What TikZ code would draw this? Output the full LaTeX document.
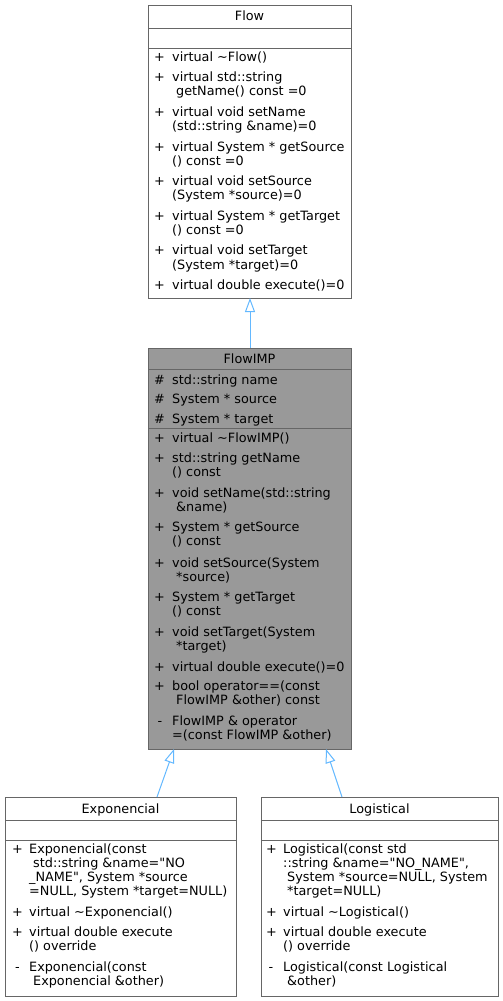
\documentclass[tikz,border=0pt]{standalone}
\usepackage{fontspec}
\setmainfont{DejaVu Sans}[Ligatures=TeXOff]
\usetikzlibrary{arrows.meta}
\definecolor{bordergray}{HTML}{666666}
\definecolor{fillgray}{HTML}{999999}
\definecolor{edgeblue}{HTML}{63B8FF}
\tikzset{
  umlbox/.style={draw=bordergray, line width=1pt, inner sep=0pt, anchor=north west},
  txt/.style={anchor=base west, inner sep=0pt, font=\fontsize{12.8}{14}\selectfont},
  ttl/.style={anchor=base, inner sep=0pt, font=\fontsize{12.8}{14}\selectfont},
  sepline/.style={draw=bordergray, line width=1pt},
  inh/.style={draw=edgeblue, line width=1pt, -{Triangle[open, length=14pt, width=10pt]}}
}
\newcommand\mline[4]{\node[txt] (#1) at (#2,#3) {#4};}
\newcommand\dq{\symbol{34}}
\begin{document}
\begin{tikzpicture}[x=1pt, y=-1pt]
\useasboundingbox (0,0) rectangle (503,1001);

% ---------------- Flow ----------------
\node[umlbox, fill=white, minimum width=203pt, minimum height=293pt] (flow) at (148,5) {};
\draw[sepline] (148,28) -- (351,28);
\draw[sepline] (148,48) -- (351,48);
\node[ttl] (flowT) at (249.5,20.5) {Flow};
\mline{f1s}{154}{61.5}{+}   \mline{f1}{172}{61.5}{virtual \textasciitilde Flow()}
\mline{f2s}{154}{81.5}{+}   \mline{f2a}{172}{81.5}{virtual std::string}
                            \mline{f2b}{176}{95.5}{getName() const =0}
\mline{f3s}{154}{116.5}{+}  \mline{f3a}{172}{116.5}{virtual void setName}
                            \mline{f3b}{172}{130.5}{(std::string \&name)=0}
\mline{f4s}{154}{151}{+}    \mline{f4a}{172}{151}{virtual System * getSource}
                            \mline{f4b}{172}{165}{() const =0}
\mline{f5s}{154}{185.5}{+}  \mline{f5a}{172}{185.5}{virtual void setSource}
                            \mline{f5b}{172}{199.5}{(System *source)=0}
\mline{f6s}{154}{220}{+}    \mline{f6a}{172}{220}{virtual System * getTarget}
                            \mline{f6b}{172}{234}{() const =0}
\mline{f7s}{154}{254.5}{+}  \mline{f7a}{172}{254.5}{virtual void setTarget}
                            \mline{f7b}{172}{269}{(System *target)=0}
\mline{f8s}{154}{289}{+}    \mline{f8}{172}{289}{virtual double execute()=0}

% ---------------- FlowIMP ----------------
\node[umlbox, fill=fillgray, minimum width=203pt, minimum height=401pt] (imp) at (148,348) {};
\draw[sepline] (148,369.5) -- (351,369.5);
\draw[sepline] (148,428.5) -- (351,428.5);
\node[ttl] (impT) at (249.5,363.5) {FlowIMP};
\mline{a1s}{154}{384}{\#}    \mline{a1}{172}{384}{std::string name}
\mline{a2s}{154}{403.5}{\#}  \mline{a2}{172}{403.5}{System * source}
\mline{a3s}{154}{423}{\#}    \mline{a3}{172}{423}{System * target}
\mline{m1s}{154}{442.5}{+}   \mline{m1}{172}{442.5}{virtual \textasciitilde FlowIMP()}
\mline{m2s}{154}{462}{+}     \mline{m2a}{172}{462}{std::string getName}
                             \mline{m2b}{172}{476}{() const}
\mline{m3s}{154}{497}{+}     \mline{m3a}{172}{497}{void setName(std::string}
                             \mline{m3b}{176}{511}{\&name)}
\mline{m4s}{154}{531.5}{+}   \mline{m4a}{172}{531.5}{System * getSource}
                             \mline{m4b}{172}{545.5}{() const}
\mline{m5s}{154}{567}{+}     \mline{m5a}{172}{567}{void setSource(System}
                             \mline{m5b}{176}{581}{*source)}
\mline{m6s}{154}{601.5}{+}   \mline{m6a}{172}{601.5}{System * getTarget}
                             \mline{m6b}{172}{615.5}{() const}
\mline{m7s}{154}{636}{+}     \mline{m7a}{172}{636}{void setTarget(System}
                             \mline{m7b}{176}{650}{*target)}
\mline{m8s}{154}{671}{+}     \mline{m8}{172}{671}{virtual double execute()=0}
\mline{m9s}{154}{690.5}{+}   \mline{m9a}{172}{690.5}{bool operator==(const}
                             \mline{m9b}{176}{704.5}{FlowIMP \&other) const}
\mline{m10s}{157.5}{725}{-}  \mline{m10a}{172}{725}{FlowIMP \& operator}
                             \mline{m10b}{172}{739}{=(const FlowIMP \&other)}

% ---------------- Exponencial ----------------
\node[umlbox, fill=white, minimum width=231pt, minimum height=199pt] (expo) at (5,797) {};
\draw[sepline] (5,820) -- (236,820);
\draw[sepline] (5,840) -- (236,840);
\node[ttl] (expoT) at (120.5,813.5) {Exponencial};
\mline{e1s}{12}{853}{+}      \mline{e1a}{29}{853}{Exponencial(const}
                             \mline{e1b}{33}{867.5}{std::string \&name=\dq NO}
                             \mline{e1c}{29}{881.5}{\_NAME\dq, System *source}
                             \mline{e1d}{29}{895.5}{=NULL, System *target=NULL)}
\mline{e2s}{12}{916.5}{+}    \mline{e2}{29}{916.5}{virtual \textasciitilde Exponencial()}
\mline{e3s}{12}{936.5}{+}    \mline{e3a}{29}{936.5}{virtual double execute}
                             \mline{e3b}{29}{950.5}{() override}
\mline{e4s}{15}{971.5}{-}    \mline{e4a}{29}{971.5}{Exponencial(const}
                             \mline{e4b}{33}{985.5}{Exponencial \&other)}

% ---------------- Logistical ----------------
\node[umlbox, fill=white, minimum width=237pt, minimum height=199pt] (logi) at (261,797) {};
\draw[sepline] (261,820) -- (498,820);
\draw[sepline] (261,840) -- (498,840);
\node[ttl] (logiT) at (379.5,813.5) {Logistical};
\mline{l1s}{266}{853}{+}     \mline{l1a}{283}{853}{Logistical(const std}
                             \mline{l1b}{283}{867.5}{::string \&name=\dq NO\_NAME\dq,}
                             \mline{l1c}{287}{881.5}{System *source=NULL, System}
                             \mline{l1d}{287}{895.5}{*target=NULL)}
\mline{l2s}{266}{916.5}{+}   \mline{l2}{283}{916.5}{virtual \textasciitilde Logistical()}
\mline{l3s}{266}{936.5}{+}   \mline{l3a}{283}{936.5}{virtual double execute}
                             \mline{l3b}{283}{950.5}{() override}
\mline{l4s}{268.5}{971.5}{-} \mline{l4a}{283}{971.5}{Logistical(const Logistical}
                             \mline{l4b}{287}{985.5}{\&other)}

% ---------------- connectors ----------------
\coordinate (impTop) at (250,348);
\coordinate (flowBot) at (250,298);
\coordinate (expoTop) at (157,797);
\coordinate (impBotL) at (174,749);
\coordinate (logiTop) at (342,797);
\coordinate (impBotR) at (326,749);
\draw[inh] (impTop) -- (flowBot);
\draw[inh] (expoTop) -- (impBotL);
\draw[inh] (logiTop) -- (impBotR);
\end{tikzpicture}
\end{document}
